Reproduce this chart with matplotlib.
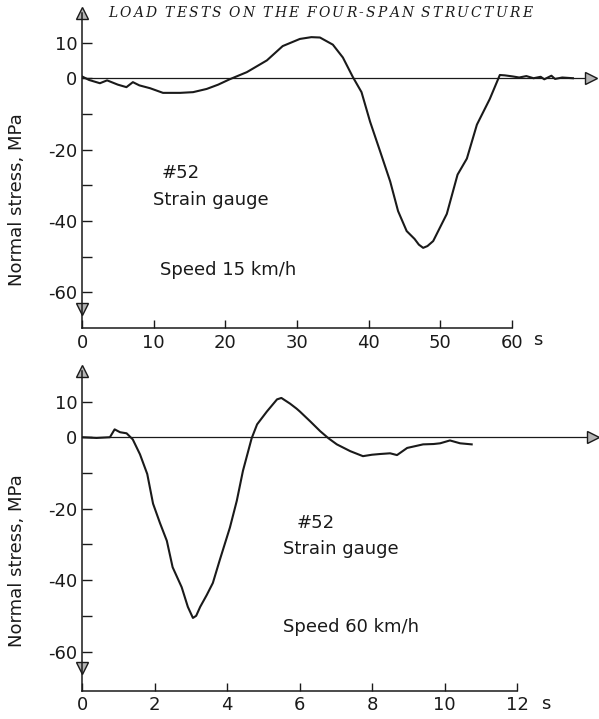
import matplotlib

matplotlib.use("Agg")
import matplotlib.pyplot as plt

# ---- data ---------------------------------------------------------------
# 15 km/h run, gauge #52
T_SLOW = [0, 1, 2.5, 3.5, 5, 6.2, 7.1, 8, 9.5, 11.3, 13.7, 15.5, 17.4, 19,
          20.6, 23, 25.8, 28, 30.4, 32, 33.2, 35, 36.4, 37.8, 39, 40.2, 41.6,
          43, 44.1, 45.3, 46.4, 47.0, 47.6, 48.2, 49, 50.9, 52.4, 53.7, 55.1,
          56.9, 58.3, 59, 60.1, 61, 62, 63, 64, 64.5, 65.5, 66, 67, 68.5]
S_SLOW = [0.5, -0.5, -1.4, -0.6, -1.8, -2.5, -1.1, -2.0, -2.8, -4.1, -4.1,
          -3.9, -3.0, -1.8, -0.3, 1.7, 5.0, 9.0, 11.0, 11.5, 11.4, 9.4, 5.8,
          0.3, -3.9, -12.2, -20.5, -28.9, -37.2, -42.8, -45.0, -46.6, -47.5,
          -47.0, -45.6, -38.0, -27.0, -22.5, -13.0, -5.8, 0.9, 0.8, 0.5, 0.2,
          0.6, 0.0, 0.4, -0.3, 0.7, -0.2, 0.2, 0.0]

# 60 km/h run, gauge #52
T_FAST = [0, 0.4, 0.77, 0.9, 1.05, 1.23, 1.4, 1.6, 1.8, 1.96, 2.15, 2.34, 2.5,
          2.75, 2.92, 3.06, 3.15, 3.26, 3.44, 3.61, 3.8, 4.08, 4.27, 4.44,
          4.68, 4.83, 5.1, 5.38, 5.5, 5.74, 5.92, 6.01, 6.3, 6.57, 6.8, 7.03,
          7.4, 7.75, 8.0, 8.22, 8.5, 8.69, 8.97, 9.41, 9.7, 9.88, 10.15,
          10.43, 10.75]
S_FAST = [0, -0.2, 0, 2.2, 1.4, 1.1, -0.6, -4.8, -10.3, -18.6, -24, -29,
          -36.4, -42, -47.5, -50.6, -50.0, -47.5, -44.2, -40.8, -34.4, -25.3,
          -17.8, -9.4, -0.3, 3.6, 7.2, 10.6, 11, 9.4, 8, 7.2, 4.4, 1.7, -0.3,
          -2, -3.9, -5.3, -4.9, -4.7, -4.5, -5.0, -3, -2, -1.9, -1.7, -0.9,
          -1.7, -2]

Y_LABELED = [10, 0, -20, -40, -60]
Y_MINOR = [-10, -30, -50]
X_TICKS_SLOW = [0, 10, 20, 30, 40, 50, 60]
X_TICKS_FAST = [0, 2, 4, 6, 8, 10, 12]

TITLE = "LOAD TESTS ON THE FOUR-SPAN STRUCTURE"

INK = "#1a1a1a"
ARROW_FILL = "#b5b5b5"
FONT = "DejaVu Sans"
FS = 13

W, H = 599, 719


def px(x, y):
    """figure pixel -> figure fraction"""
    return x / W, 1 - y / H


def setup(ax, xlim, ylim, xticks, x_end, y_top, x_arrow):
    ax.set_xlim(*xlim)
    ax.set_ylim(*ylim)
    ax.patch.set_alpha(0)
    for s in ("top", "right"):
        ax.spines[s].set_visible(False)
    ax.spines["left"].set_bounds(ylim[0], y_top)
    ax.spines["bottom"].set_bounds(0, x_end)
    for s in ("left", "bottom"):
        ax.spines[s].set_linewidth(1.1)
        ax.spines[s].set_color(INK)

    ax.set_yticks(Y_LABELED)
    ax.set_yticklabels([str(v) for v in Y_LABELED])
    ax.set_yticks(Y_MINOR, minor=True)
    ax.set_xticks(xticks)
    ax.set_xticklabels([str(v) for v in xticks])
    ax.tick_params(axis="y", which="both", direction="in", length=7.5,
                   width=1, colors=INK, pad=3.5, labelsize=FS)
    ax.tick_params(axis="x", direction="in", length=6, width=1, colors=INK,
                   pad=4, labelsize=FS)
    for lab in ax.get_xticklabels() + ax.get_yticklabels():
        lab.set_family(FONT)

    # zero line with arrow, axis arrowheads
    ax.plot([0, x_arrow * 0.99], [0, 0], color=INK, lw=0.9, clip_on=False)
    ax.plot([x_arrow], [0], marker=">", ms=9, mfc=ARROW_FILL, mec=INK,
            mew=1, clip_on=False)
    ax.plot([0], [y_top], marker="^", ms=9, mfc=ARROW_FILL, mec=INK, mew=1,
            clip_on=False)
    ax.plot([0], [-64.5], marker="v", ms=9, mfc=ARROW_FILL, mec=INK, mew=1,
            clip_on=False)
    ax.set_ylabel("Normal stress, MPa", fontsize=FS, family=FONT, color=INK)


def spaced_title(fig, text, x0, x1, y, **kw):
    """letter-spaced running head, stretched between pixel x0 and x1"""
    r = fig.canvas.get_renderer()
    widths = []
    for ch in text:
        if ch == " ":
            widths.append(kw["fontsize"] * 0.35)
            continue
        t = fig.text(0, 0, ch, **kw)
        widths.append(t.get_window_extent(r).width)
        t.remove()
    gap = (x1 - x0 - sum(widths)) / (len(text) - 1)
    x = x0
    for ch, w in zip(text, widths):
        if ch != " ":
            fig.text(*px(x, y), ch, ha="left", va="center", **kw)
        x += w + gap


fig = plt.figure(figsize=(W / 100, H / 100), dpi=100)
fig.patch.set_facecolor("white")

# ---- top: 15 km/h --------------------------------------------------------
ax1 = fig.add_axes([82 / W, 1 - 328.2 / H, 517 / W, 321.4 / H])
setup(ax1, (0, 517 / 7.167), (-70, 20), X_TICKS_SLOW, 60, 18.3, 71.0)
ax1.plot(T_SLOW, S_SLOW, color=INK, lw=1.5, solid_joinstyle="round")
ax1.yaxis.set_label_coords(-0.108, 0.40)

# ---- bottom: 60 km/h -----------------------------------------------------
ax2 = fig.add_axes([82 / W, 1 - 690.8 / H, 517 / W, 325 / H])
setup(ax2, (0, 517 / 36.25), (-71, 20), X_TICKS_FAST, 12, 18.5, 14.1)
ax2.plot(T_FAST, S_FAST, color=INK, lw=1.5, solid_joinstyle="round")
ax2.yaxis.set_label_coords(-0.108, 0.40)

# ---- annotations ---------------------------------------------------------
txt = dict(fontsize=FS, family=FONT, color=INK, va="center", ha="left")
fig.text(*px(162, 173), "#52", **txt)
fig.text(*px(153, 200), "Strain gauge", **txt)
fig.text(*px(160, 270), "Speed 15 km/h", **txt)
fig.text(*px(297, 523), "#52", **txt)
fig.text(*px(283, 549), "Strain gauge", **txt)
fig.text(*px(283, 627), "Speed 60 km/h", **txt)
fig.text(*px(533, 340), "s", **txt)
fig.text(*px(541, 704), "s", **txt)

spaced_title(fig, TITLE, 108, 532, 13, fontsize=10, family="DejaVu Serif",
             style="italic", color=INK)

fig.savefig("out.png", dpi=100)
